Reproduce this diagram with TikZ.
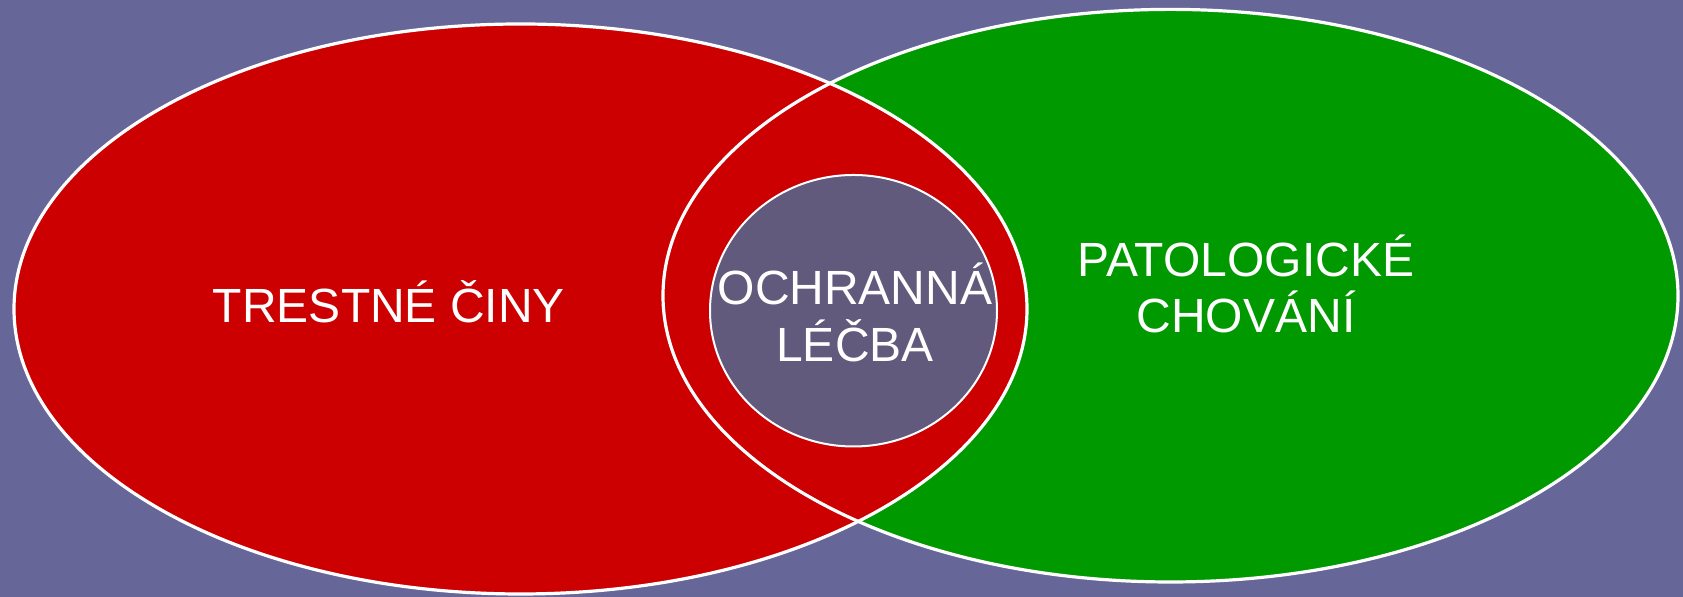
\documentclass[tikz,border=0pt]{standalone}
\usepackage{fontspec}
\setmainfont{Liberation Sans}
\definecolor{slate}{HTML}{666699}
\definecolor{crimeRed}{HTML}{CC0000}
\definecolor{pathoGreen}{HTML}{009900}
\definecolor{careGrey}{HTML}{615A7C}
\tikzset{label text/.style={text=white, align=center, anchor=base, inner sep=0pt, font=\fontsize{24}{28}\selectfont}}

\begin{document}
\begin{tikzpicture}[x=0.5pt, y=0.5pt]
		%%%%% START %%%%%
		
		\fill[color=slate] (0, 0) rectangle (1683, 597);
		\useasboundingbox (0, 0) rectangle (1683, 597);
		
		\fill[color=pathoGreen] (1170.5, 301.3) ellipse (507.5 and 286.3);
		\fill[color=crimeRed] (520.5, 288) ellipse (506.5 and 285);
		\draw[line width=1.6pt, color=white] (1170.5, 301.3) ellipse (507.5 and 286.3);
		\draw[line width=1.6pt, color=white] (520.5, 288) ellipse (506.5 and 285);
		
		\draw[line width=1pt, color=white, fill=careGrey] (853.5, 286.25) ellipse (143.5 and 135.75);
		
		\node[label text] (crimes) at (389, 274) {TRESTNÉ ČINY};
		\node[label text] (pathology) at (1246, 264) {PATOLOGICKÉ\\CHOVÁNÍ};
		\node[label text, font=\fontsize{24}{28.5}\selectfont] (treatment) at (855, 235) {OCHRANNÁ\\LÉČBA};
		
		%%%%% END %%%%%
	\end{tikzpicture}
\end{document}
